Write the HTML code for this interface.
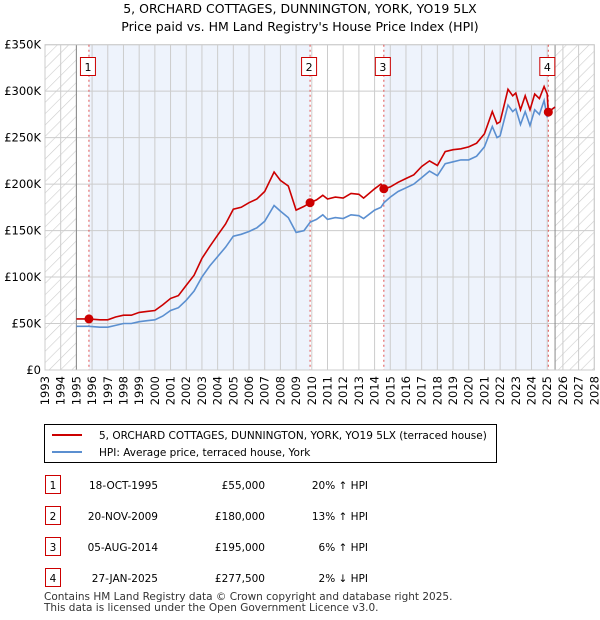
<!DOCTYPE html>
<html><head><meta charset="utf-8"><style>
body{margin:0;background:#fff;font-family:"Liberation Sans","DejaVu Sans",sans-serif;}
#wrap{position:relative;width:600px;height:620px;overflow:hidden}
svg text{font-family:"DejaVu Sans","Liberation Sans",sans-serif}
</style></head><body><div id="wrap">
<svg id="chart" width="600" height="620">
<defs><pattern id="hatch" width="8" height="8" patternUnits="userSpaceOnUse" patternTransform="rotate(-45)"><line x1="0" y1="0" x2="0" y2="8" stroke="#ccc" stroke-width="1.2" transform="rotate(90 4 4)"/></pattern></defs>
<text x="300" y="13" text-anchor="middle" font-size="12.5">5, ORCHARD COTTAGES, DUNNINGTON, YORK, YO19 5LX</text>
<text x="300" y="31" text-anchor="middle" font-size="12.5">Price paid vs. HM Land Registry's House Price Index (HPI)</text>
<g id="plot"></g>
<g id="legend">
<rect x="44.5" y="424.5" width="452" height="38" fill="#fff" stroke="#000"/>
<line x1="52" y1="435" x2="82" y2="435" stroke="#cc0000" stroke-width="2"/>
<text x="99" y="439" font-size="10.5">5, ORCHARD COTTAGES, DUNNINGTON, YORK, YO19 5LX (terraced house)</text>
<line x1="52" y1="452" x2="82" y2="452" stroke="#5b8fd0" stroke-width="2"/>
<text x="99" y="456" font-size="10.5">HPI: Average price, terraced house, York</text>
</g>
<g id="table" font-size="10.5"></g>
<text x="44" y="600" font-size="10.5" fill="#333">Contains HM Land Registry data © Crown copyright and database right 2025.</text>
<text x="44" y="611" font-size="10.5" fill="#333">This data is licensed under the Open Government Licence v3.0.</text>
</svg></div>
<script>
const years=[1995.0,1995.8,1996.5,1997.0,1997.5,1998.0,1998.5,1999.0,1999.5,2000.0,2000.5,2001.0,2001.5,2002.0,2002.5,2003.0,2003.5,2004.0,2004.5,2005.0,2005.5,2006.0,2006.5,2007.0,2007.6,2008.0,2008.5,2009.0,2009.5,2009.9,2010.3,2010.7,2011.0,2011.5,2012.0,2012.5,2013.0,2013.3,2014.0,2014.4,2014.6,2015.0,2015.5,2016.0,2016.5,2017.0,2017.5,2018.0,2018.5,2019.0,2019.5,2020.0,2020.5,2021.0,2021.5,2021.8,2022.0,2022.5,2022.8,2023.0,2023.3,2023.6,2023.9,2024.2,2024.5,2024.8,2025.0,2025.07,2025.5];
const hpiValues=[47,47,46,46,48,50,50,52,53,54,58,64,67,75,85,100,112,122,132,144,146,149,153,160,177,171,164,148,150,159,162,167,162,164,163,167,166,163,172,175,180,186,192,196,200,207,214,209,222,224,226,226,230,240,262,250,252,285,278,281,264,278,263,280,275,290,272,278,283];
const priceValues=[55,55,54,54,57,59,59,62,63,64,70,77,80,91,102,120,133,145,157,173,175,180,184,192,213,204,198,172,176,180,183,188,184,186,185,190,189,185,195,200,195,197,202,206,210,219,225,220,235,237,238,240,244,254,278,265,267,302,295,298,280,295,280,297,292,305,297,277.5,283];
const saleDates=[1995.8,2009.89,2014.59,2025.07];
const salePrices=[55,180,195,277.5];
const saleLabels=["1","2","3","4"];
const saleDateText=["18-OCT-1995","20-NOV-2009","05-AUG-2014","27-JAN-2025"];
const salePriceText=["£55,000","£180,000","£195,000","£277,500"];
const saleHpiText=["20% ↑ HPI","13% ↑ HPI","6% ↑ HPI","2% ↓ HPI"];
const yTicks=[0,50,100,150,200,250,300,350];
const yTickLabels=["£0","£50K","£100K","£150K","£200K","£250K","£300K","£350K"];
const xTickYears=[1993,1994,1995,1996,1997,1998,1999,2000,2001,2002,2003,2004,2005,2006,2007,2008,2009,2010,2011,2012,2013,2014,2015,2016,2017,2018,2019,2020,2021,2022,2023,2024,2025,2026,2027,2028];
const X0=45,X1=594.3,Y0=370,Y1=44.7;
const xs=y=>X0+(y-1993)/35*(X1-X0);
const ys=v=>Y0-v/350*(Y0-Y1);
const NS="http://www.w3.org/2000/svg";
const plot=document.getElementById('plot');
function mk(tag,at,parent){const e=document.createElementNS(NS,tag);for(const k in at)e.setAttribute(k,at[k]);(parent||plot).appendChild(e);return e;}
mk('rect',{x:X0,y:Y1,width:X1-X0,height:Y0-Y1,fill:'#fff'});
mk('rect',{x:X0,y:Y1,width:xs(1995)-X0,height:Y0-Y1,fill:'url(#hatch)'});
mk('rect',{x:xs(2025.5),y:Y1,width:X1-xs(2025.5),height:Y0-Y1,fill:'url(#hatch)'});
mk('rect',{x:xs(saleDates[0]),y:Y1,width:xs(saleDates[1])-xs(saleDates[0]),height:Y0-Y1,fill:'#eef3fc'});
mk('rect',{x:xs(saleDates[2]),y:Y1,width:xs(saleDates[3])-xs(saleDates[2]),height:Y0-Y1,fill:'#eef3fc'});
for(const y of xTickYears){const l=mk('line',{x1:xs(y),x2:xs(y),y1:Y1,y2:Y0,stroke:'#ccc'});


const t=mk('text',{x:0,y:0,'font-size':11.5,'text-anchor':'end',transform:`translate(${xs(y)+4},${Y0+6}) rotate(-90)`});t.textContent=y;

}
yTicks.forEach((v,i)=>{const l=mk('line',{x1:X0,x2:X1,y1:ys(v),y2:ys(v),stroke:'#ccc'});


const t=mk('text',{x:X0-4,y:ys(v)+4,'font-size':11.5,'text-anchor':'end'});t.textContent=yTickLabels[i];

});
mk('line',{x1:xs(1995),x2:xs(1995),y1:Y1,y2:Y0,stroke:'#888'});
mk('line',{x1:xs(2025.5),x2:xs(2025.5),y1:Y1,y2:Y0,stroke:'#888'});
mk('rect',{x:X0,y:Y1,width:X1-X0,height:Y0-Y1,fill:'none',stroke:'#ccc'});
saleDates.forEach((d,i)=>{const l=mk('line',{x1:xs(d),x2:xs(d),y1:Y1,y2:Y0,stroke:'#e05050','stroke-dasharray':'2,3'});


const b=mk('rect',{x:xs(d)-8.5,y:57.5,width:15,height:18,fill:'#fff',stroke:'#cc0000'});


const t=mk('text',{x:xs(d)-1,y:71,'font-size':11,'text-anchor':'middle'});t.textContent=saleLabels[i];

});
const pts=a=>years.map((y,i)=>xs(y).toFixed(1)+','+ys(a[i]).toFixed(1)).join(' ');
const hl=mk('polyline',{points:pts(hpiValues),fill:'none',stroke:'#5b8fd0','stroke-width':1.6});


const pl=mk('polyline',{points:pts(priceValues),fill:'none',stroke:'#cc0000','stroke-width':1.6});


saleDates.forEach((d,i)=>{const c=mk('circle',{cx:xs(d),cy:ys(salePrices[i]),r:4.5,fill:'#cc0000'});

});
const tb=document.getElementById('table');
const rowsY=[487,518,549,580];
saleLabels.forEach((l,i)=>{const y=rowsY[i];
const b=mk('rect',{x:45.5,y:y-11.5,width:15,height:18,fill:'#fff',stroke:'#cc0000'},tb);


const cols=[[53,l,'middle'],[158,saleDateText[i],'end'],[265,salePriceText[i],'end'],[368,saleHpiText[i],'end']];
cols.forEach(c=>{const t=mk('text',{x:c[0],y:y+2,'text-anchor':c[2]},tb);t.textContent=c[1];

});});
</script></body></html>
